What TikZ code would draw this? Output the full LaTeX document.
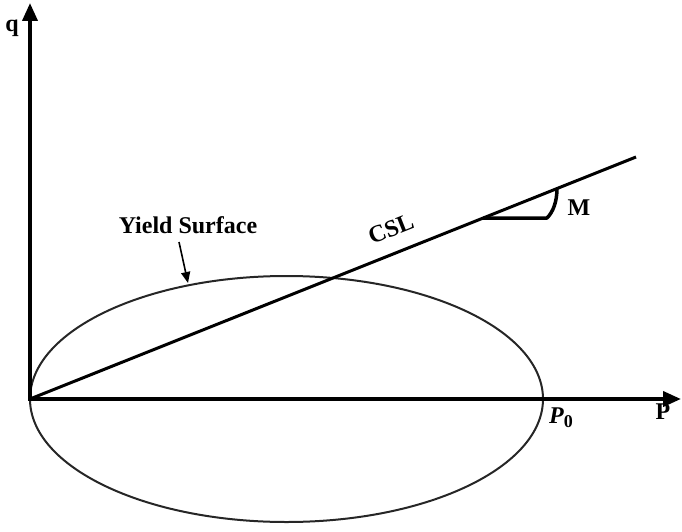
\documentclass[tikz,border=0pt]{standalone}
\usepackage{fontspec}
\setmainfont{Liberation Serif}
\usetikzlibrary{arrows.meta}
\tikzset{
  axisline/.style={line width=3.8pt, -{Triangle[length=18pt,width=15pt]}},
  lbl/.style={font=\fontsize{24}{28}\selectfont\bfseries, inner sep=0pt},
  csl/.style={line width=3pt},
  yield/.style={line width=2pt, draw=black!85},
  anglemark/.style={line width=3.5pt, line join=round},
  ptr/.style={line width=1.6pt, -{Triangle[length=11pt,width=9pt]}}
}
\begin{document}
\begin{tikzpicture}[x=1pt,y=-1pt]
\useasboundingbox (0,0) rectangle (682,532);
\coordinate (O) at (30,399);
\coordinate (qtop) at (30,3);
\coordinate (pend) at (681,399);
\coordinate (cslend) at (636,157);
\coordinate (m1) at (483,218);
\coordinate (m2) at (547,218);
\coordinate (m3) at (557,188);
% ellipse
\draw[yield] (286.5,399) ellipse [x radius=256.5, y radius=123];
% axes
\draw[axisline] (30,400) -- (qtop);
\draw[axisline] (28,399) -- (pend);
% CSL
\draw[csl] (O) -- (cslend);
% angle mark
\draw[anglemark] (m1) -- (m2) .. controls (553,212) and (557,202) .. (m3);
% labels
\node[lbl] (q) at (12,28) {q};
\node[lbl] (p) at (663,412) {P};
\node[lbl, font=\fontsize{24}{28}\selectfont\bfseries\itshape] (p0) at (561,418) {P\raisebox{-0.35ex}{\fontsize{18}{21}\selectfont\upshape 0}};
\node[lbl] (m) at (579,208) {M};
\node[lbl, rotate=21.7] (cslt) at (391,229) {CSL};
\node[lbl] (ys) at (188,225) {Yield Surface};
\coordinate (ystip) at (188,283);
\draw[ptr] (179,242) -- (ystip);
\end{tikzpicture}
\end{document}
